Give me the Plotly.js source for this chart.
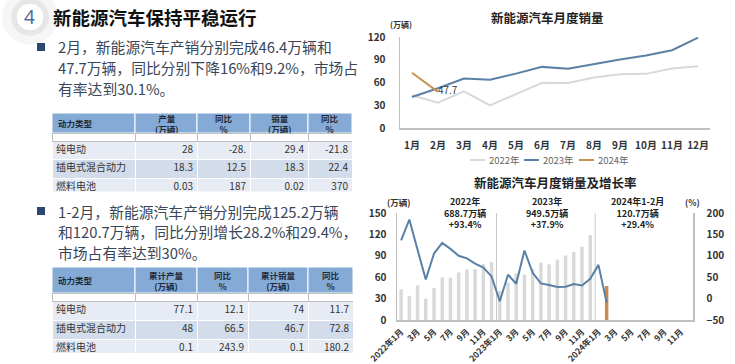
<!DOCTYPE html>
<html><head><meta charset="utf-8">
<script src="https://cdn.plot.ly/plotly-3.0.1.min.js"></script>
<style>
html,body{margin:0;padding:0;background:#fff;}
#wrap{position:relative;width:735px;height:364px;overflow:hidden;}
#c{position:absolute;left:0;top:0;width:735px;height:364px;}
.tbl{position:absolute;transform-origin:0 0;}
</style>
</head><body><div id="wrap"><div id="c"></div><div id="t1" class="tbl"></div><div id="t2" class="tbl"></div></div>
<script>
// ---------- data ----------
const monthsShort = ['1月','2月','3月','4月','5月','6月','7月','8月','9月','10月','11月','12月'];
const sales2022 = [43.1,33.4,48.4,29.9,44.7,59.6,59.3,66.6,70.8,71.4,78.6,81.4];
const sales2023 = [40.8,52.5,65.3,63.6,71.7,80.6,78.0,84.6,90.4,95.6,102.6,119.1];
const sales2024 = [72.9,47.7];
const growth2022 = [135.8,184.8,114.0,44.6,105.2,130.0,116.1,100.0,93.9,81.7,72.3,51.8];
const growth2023 = [-6.3,55.9,34.8,112.4,60.4,35.4,31.6,27.0,27.7,33.9,30.5,46.4];
const growth2024 = [78.8,-9.2];
const years = ['2022','2023','2024'];
const summaryTitles = ['2022年','2023年','2024年1-2月'];
const summaryTotals = ['688.7万辆','949.5万辆','120.7万辆'];
const summaryGrowth = ['+93.4%','+37.9%','+29.4%'];

const table1Header = ['动力类型','产量<br>(万辆)','同比<br>%','销量<br>(万辆)','同比<br>%'];
const table2Header = ['动力类型','累计产量<br>(万辆)','同比<br>%','累计销量<br>(万辆)','同比<br>%'];
const powerTypes = ['纯电动','插电式混合动力','燃料电池'];
const febProd = ['28','18.3','0.03'];
const febProdYoY = ['-28.','12.5','187'];
const febSales = ['29.4','18.3','0.02'];
const febSalesYoY = ['-21.8','22.4','370'];
const cumProd = ['77.1','48','0.1'];
const cumProdYoY = ['12.1','66.5','243.9'];
const cumSales = ['74','46.7','0.1'];
const cumSalesYoY = ['11.7','72.8','180.2'];

const textLines1 = ['2月，新能源汽车产销分别完成46.4万辆和','47.7万辆，同比分别下降16%和9.2%，市场占','有率达到30.1%。'];
const textLines2 = ['1-2月，新能源汽车产销分别完成125.2万辆','和120.7万辆，同比分别增长28.2%和29.4%，','市场占有率达到30%。'];

// ---------- build ----------
const W = 735, H = 364;
const px = v => v / W;
const py = v => 1 - v / H;
const FONT = '"Noto Sans CJK SC", "Noto Sans", sans-serif';

const cats36 = [];
const tickVals = [], tickText = [];
years.forEach(y => monthsShort.forEach((m, i) => {
  const c = y + '年' + m;
  cats36.push(c);
  if (i % 2 === 0) { tickVals.push(c); tickText.push(i === 0 ? c : m); }
}));
const salesAll = sales2022.concat(sales2023);
const barY = cats36.map((c, i) => i < salesAll.length ? salesAll[i] : null);
const growthAll = growth2022.concat(growth2023, growth2024);

const traces = [
  {type:'scatter', mode:'lines', x: monthsShort, y: sales2022, line:{color:'#d9d9d9', width:2}, xaxis:'x', yaxis:'y', hoverinfo:'skip'},
  {type:'scatter', mode:'lines', x: monthsShort, y: sales2023, line:{color:'#5b80a5', width:2}, xaxis:'x', yaxis:'y', hoverinfo:'skip'},
  {type:'scatter', mode:'lines+text', x: monthsShort.slice(0, sales2024.length), y: sales2024,
   text: sales2024.map((v, i) => i === sales2024.length - 1 ? String(v) : ''), textposition:'middle right',
   textfont:{family:FONT, size:10, color:'#404040'},
   line:{color:'#c8924f', width:2}, xaxis:'x', yaxis:'y', hoverinfo:'skip'},
  {type:'bar', x: cats36, y: barY, marker:{color:'#d9d9d9'}, xaxis:'x2', yaxis:'y3', hoverinfo:'skip'},
  {type:'bar', x: [cats36[25]], y: [sales2024[1]], marker:{color:'#c98a4b'}, xaxis:'x2', yaxis:'y3', hoverinfo:'skip'},
  {type:'scatter', mode:'lines', x: cats36.slice(0, growthAll.length), y: growthAll, line:{color:'#5b80a5', width:2}, xaxis:'x2', yaxis:'y4', hoverinfo:'skip'}
];

const ann = [];
const shapes = [];
// header
shapes.push({type:'circle', xref:'paper', yref:'paper', x0:px(2), x1:px(58), y0:py(45), y1:py(-11), fillcolor:'rgba(0,0,0,0.035)', line:{width:0}, layer:'below'});
shapes.push({type:'circle', xref:'paper', yref:'paper', x0:px(11), x1:px(49), y0:py(36), y1:py(-2), fillcolor:'rgba(0,0,0,0.06)', line:{width:0}, layer:'below'});
shapes.push({type:'circle', xref:'paper', yref:'paper', x0:px(16), x1:px(44), y0:py(31), y1:py(3), fillcolor:'#ffffff', line:{color:'#e2e2e2', width:1}, layer:'below'});
ann.push({xref:'paper', yref:'paper', x:px(30), y:py(17), text:'4', showarrow:false, xanchor:'center', yanchor:'middle', font:{family:'"Noto Sans", sans-serif', size:19, color:'#4f6e98'}});
ann.push({xref:'paper', yref:'paper', x:px(51), y:py(17), text:'<b>新能源汽车保持平稳运行</b>', showarrow:false, xanchor:'left', yanchor:'middle', font:{family:FONT, size:18.5, color:'#111'}});
// bullets + text
[[47, textLines1], [211, textLines2]].forEach(([y0, lines]) => {
  shapes.push({type:'rect', xref:'paper', yref:'paper', x0:px(37), x1:px(45), y0:py(y0+4), y1:py(y0-4), fillcolor:'#2c4770', line:{width:0}});
  lines.forEach((t, i) => ann.push({xref:'paper', yref:'paper', x:px(56), y:py(y0 + i*20.5), text:t, showarrow:false, xanchor:'left', yanchor:'middle', font:{family:FONT, size:14.8, color:'#3a4658'}}));
});

// tables: header row as shapes/labels, data cells as Plotly table traces (scaled overlay)
const S = 0.5;
function addTable(divId, left, top, colW, headH, rowH, header, cols) {
  let x = left;
  colW.forEach((w, j) => {
    shapes.push({type:'rect', xref:'paper', yref:'paper', x0:px(x), x1:px(x + w), y0:py(top + headH), y1:py(top), fillcolor:'#86aad6', line:{color:'#ffffff', width:1}});
    ann.push({xref:'paper', yref:'paper', x:px(j === 0 ? x + 4 : x + w / 2), y:py(top + headH / 2), text:'<b>' + header[j] + '</b>', showarrow:false,
      xanchor: j === 0 ? 'left' : 'center', yanchor:'middle', font:{family:FONT, size:8.5, color:'#1f2a38'}});
    x += w;
  });
  const totalW = colW.reduce((a, b) => a + b, 0);
  const nRows = cols[0].length;
  const div = document.getElementById(divId);
  div.style.left = left + 'px';
  div.style.top = (top + headH) + 'px';
  div.style.width = (totalW / S) + 'px';
  div.style.height = (nRows * rowH / S + 6) + 'px';
  div.style.transform = 'scale(' + S + ')';
  const fills = cols[0].map((c, i) => i % 2 === 0 ? '#e7ecf4' : '#d3dcea');
  Plotly.newPlot(div, [{type:'table', domain:{x:[0,1], y:[0,1]}, columnwidth: colW,
    header:{values:[]},
    cells:{values: cols, height: rowH / S, align:['left','right','right','right','right'],
      fill:{color:[fills]}, line:{color:'#ffffff', width:2}, font:{family:FONT, size:20, color:'#333'}}}],
    {width: totalW / S, height: nRows * rowH / S + 6, margin:{l:0, r:0, t:0, b:0}, paper_bgcolor:'rgba(0,0,0,0)'},
    {staticPlot:true, displayModeBar:false});
}

// top chart titles & legend
ann.push({xref:'paper', yref:'paper', x:px(547), y:py(17), text:'<b>新能源汽车月度销量</b>', showarrow:false, xanchor:'center', yanchor:'middle', font:{family:FONT, size:12.5, color:'#222'}});
ann.push({xref:'paper', yref:'paper', x:px(401), y:py(25), text:'<b>(万辆)</b>', showarrow:false, xanchor:'center', yanchor:'middle', font:{family:FONT, size:8, color:'#333'}});
const legendItems = [['2022年','#d9d9d9',470],['2023年','#5b80a5',524],['2024年','#c8924f',579]];
legendItems.forEach(([t, col, x]) => {
  shapes.push({type:'line', xref:'paper', yref:'paper', x0:px(x), x1:px(x+15), y0:py(160), y1:py(160), line:{color:col, width:2}});
  ann.push({xref:'paper', yref:'paper', x:px(x+17), y:py(160), text:t, showarrow:false, xanchor:'left', yanchor:'middle', font:{family:FONT, size:9.5, color:'#666'}});
});
// bottom chart titles
ann.push({xref:'paper', yref:'paper', x:px(555), y:py(182), text:'<b>新能源汽车月度销量及增长率</b>', showarrow:false, xanchor:'center', yanchor:'middle', font:{family:FONT, size:12.5, color:'#222'}});
ann.push({xref:'paper', yref:'paper', x:px(398), y:py(202), text:'<b>(万辆)</b>', showarrow:false, xanchor:'center', yanchor:'middle', font:{family:FONT, size:8.5, color:'#333'}});
ann.push({xref:'paper', yref:'paper', x:px(692), y:py(202), text:'<b>(%)</b>', showarrow:false, xanchor:'center', yanchor:'middle', font:{family:FONT, size:8.5, color:'#333'}});
const sumX = [465, 547, 637];
summaryTitles.forEach((t, i) => {
  ann.push({xref:'paper', yref:'paper', x:px(sumX[i]), y:py(213), text:'<b>' + t + '<br>' + summaryTotals[i] + '<br>' + summaryGrowth[i] + '</b>', showarrow:false, xanchor:'center', yanchor:'middle', font:{family:FONT, size:9, color:'#222'}});
});
// separators
[[11.6, 151], [23.6, 158]].forEach(([x, top]) => {
  shapes.push({type:'line', xref:'x2', yref:'y3', x0:x, x1:x, y0:0, y1:top, line:{color:'#c8c8c8', width:1}, layer:'below'});
});

addTable('t1', 52, 113, [83,62,53,58,44], 20, 18.5, table1Header, [powerTypes, febProd, febProdYoY, febSales, febSalesYoY]);
addTable('t2', 52, 267, [83,62,51,60,45], 26, 19, table2Header, [powerTypes, cumProd, cumProdYoY, cumSales, cumSalesYoY]);

const tickFont = {family:FONT, size:10, color:'#333', weight:'bold'};
const layout = {
  width: W, height: H, margin:{l:0, r:0, t:0, b:0}, paper_bgcolor:'#ffffff', plot_bgcolor:'rgba(0,0,0,0)',
  showlegend:false, barmode:'overlay', bargap:0.58,
  xaxis:{domain:[px(400), px(710)], anchor:'y', type:'category', range:[-0.46, 11.46], showline:true, linecolor:'#bfbfbf', linewidth:1.5, showgrid:false, zeroline:false, ticks:'', tickfont:tickFont, ticklabelstandoff:7, fixedrange:true},
  yaxis:{domain:[py(128), py(37)], anchor:'x', range:[0, 120], tickvals:[0,30,60,90,120], showline:true, linecolor:'#bfbfbf', linewidth:1.5, showgrid:false, zeroline:false, ticks:'', tickfont:tickFont, ticklabelstandoff:11, fixedrange:true},
  xaxis2:{domain:[px(397), px(693)], anchor:'y3', type:'category', range:[-0.5, 35.5], tickvals:tickVals, ticktext:tickText, tickangle:-45, showline:true, linecolor:'#bfbfbf', linewidth:1.5, showgrid:false, zeroline:false, ticks:'', tickfont:{family:FONT, size:8.5, color:'#333', weight:'bold'}, ticklabelstandoff:2, fixedrange:true},
  yaxis3:{domain:[py(320), py(213)], anchor:'x2', range:[0, 150], dtick:30, showline:true, linecolor:'#bfbfbf', linewidth:1.5, showgrid:false, zeroline:false, ticks:'', tickfont:tickFont, ticklabelstandoff:7, fixedrange:true},
  yaxis4:{overlaying:'y3', anchor:'x2', side:'right', range:[-50, 200], dtick:50, showline:true, linecolor:'#bfbfbf', linewidth:1.5, showgrid:false, zeroline:false, ticks:'', tickfont:tickFont, ticklabelstandoff:10, fixedrange:true},
  annotations: ann, shapes: shapes
};
Plotly.newPlot('c', traces, layout, {staticPlot:true, displayModeBar:false});
</script></body></html>
